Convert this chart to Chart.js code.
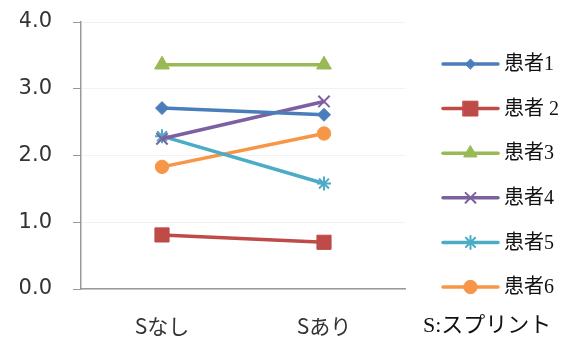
<!DOCTYPE html>
<html>
<head>
<meta charset="utf-8">
<script src="https://cdn.jsdelivr.net/npm/chart.js@4/dist/chart.umd.min.js"></script>
<style>
  html, body { margin: 0; padding: 0; background: #fff; }
  #wrap { width: 573px; height: 338px; }
</style>
</head>
<body>
<div id="wrap"><canvas id="c" width="573" height="338"></canvas></div>
<script>
// Categories (with / without splint) and per-patient scores
const categories = ['Sなし', 'Sあり'];
const patientNames = ['患者1', '患者 2', '患者3', '患者4', '患者5', '患者6'];
const patient1 = [2.71, 2.61];
const patient2 = [0.81, 0.70];
const patient3 = [3.36, 3.36];
const patient4 = [2.25, 2.81];
const patient5 = [2.29, 1.58];
const patient6 = [1.83, 2.33];
const yTickValues = [0, 1, 2, 3, 4];
const footnote = 'S:スプリント';

const seriesValues = [patient1, patient2, patient3, patient4, patient5, patient6];
const seriesColors = ['#4A7EBB', '#BE4B48', '#98B954', '#7D60A0', '#4BACC6', '#F79646'];
const markerStyles = [
  { pointStyle: 'rectRot', radius: 6.5, legendRadius: 5, border: 1 },
  { pointStyle: 'rect', radius: 10, legendRadius: 10.5, border: 1 },
  { pointStyle: 'triangle', radius: 8.5, legendRadius: 7.5, border: 1 },
  { pointStyle: 'crossRot', radius: 8, legendRadius: 7, border: 2 },
  { pointStyle: 'star', radius: 7, legendRadius: 6.5, border: 2 },
  { pointStyle: 'circle', radius: 6.7, legendRadius: 6.7, border: 1 }
];

const datasets = seriesValues.map((vals, i) => ({
  label: patientNames[i],
  data: vals,
  borderColor: seriesColors[i],
  backgroundColor: seriesColors[i],
  borderWidth: 3.5,
  pointStyle: markerStyles[i].pointStyle,
  pointRadius: markerStyles[i].radius,
  pointHoverRadius: markerStyles[i].radius,
  pointBackgroundColor: seriesColors[i],
  pointBorderColor: seriesColors[i],
  pointBorderWidth: markerStyles[i].border,
  tension: 0
}));

// Legend on the right: line + marker sample, then the patient name
const sideLegend = {
  id: 'sideLegend',
  afterDraw(chart) {
    const ctx = chart.ctx;
    const area = chart.chartArea;
    const x0 = area.right + 38;
    const x1 = x0 + 55;
    chart.data.datasets.forEach((ds, i) => {
      const y = area.top + 42 + i * 44.6;
      ctx.save();
      ctx.strokeStyle = ds.borderColor;
      ctx.lineWidth = ds.borderWidth;
      ctx.lineCap = 'round';
      ctx.beginPath();
      ctx.moveTo(x0, y);
      ctx.lineTo(x1, y);
      ctx.stroke();
      ctx.fillStyle = ds.pointBackgroundColor;
      ctx.strokeStyle = ds.pointBorderColor;
      ctx.lineWidth = ds.pointBorderWidth;
      Chart.helpers.drawPoint(ctx, {
        pointStyle: ds.pointStyle,
        radius: markerStyles[i].legendRadius,
        rotation: 0,
        borderWidth: ds.pointBorderWidth
      }, (x0 + x1) / 2, y);
      ctx.fillStyle = '#111';
      ctx.font = '20px "Liberation Serif", "Noto Sans CJK JP", serif';
      ctx.textAlign = 'left';
      ctx.textBaseline = 'middle';
      ctx.fillText(ds.label, x1 + 6, y + 1);
      ctx.restore();
    });
    // footnote under the legend, level with the category labels
    ctx.save();
    ctx.fillStyle = '#111';
    ctx.font = '22px "Liberation Serif", "Noto Sans CJK JP", serif';
    ctx.textAlign = 'left';
    ctx.textBaseline = 'middle';
    ctx.fillText(footnote, area.right + 18, area.bottom + 37);
    ctx.restore();
  }
};

new Chart(document.getElementById('c'), {
  type: 'line',
  data: { labels: categories, datasets: datasets },
  plugins: [sideLegend],
  options: {
    responsive: false,
    animation: false,
    devicePixelRatio: 1,
    layout: { padding: { left: 20, right: 168, top: 22, bottom: 0 } },
    plugins: {
      legend: { display: false },
      tooltip: { enabled: false }
    },
    scales: {
      x: {
        offset: true,
        grid: { display: false, drawTicks: false },
        border: { display: true, color: '#999', width: 1.5 },
        ticks: {
          padding: 24,
          color: '#333',
          font: { family: '"Noto Sans CJK JP", sans-serif', size: 21 }
        },
        afterFit(scale) {
          scale.height = 49;
          scale.paddingLeft = 0;
          scale.paddingRight = 0;
        }
      },
      y: {
        min: 0,
        max: 4,
        afterBuildTicks(scale) {
          scale.ticks = yTickValues.map(v => ({ value: v }));
        },
        afterFit(scale) {
          scale.width = 61;
          scale.paddingTop = 0;
          scale.paddingBottom = 0;
        },
        grid: {
          color: '#f2f2f2',
          tickColor: '#999',
          tickLength: 8,
          lineWidth: 1
        },
        border: { display: true, color: '#999', width: 1.5 },
        ticks: {
          padding: 21,
          color: '#333',
          font: { family: '"DejaVu Sans", sans-serif', size: 21 },
          callback: v => Number(v).toFixed(1)
        }
      }
    }
  }
});
</script>
</body>
</html>
